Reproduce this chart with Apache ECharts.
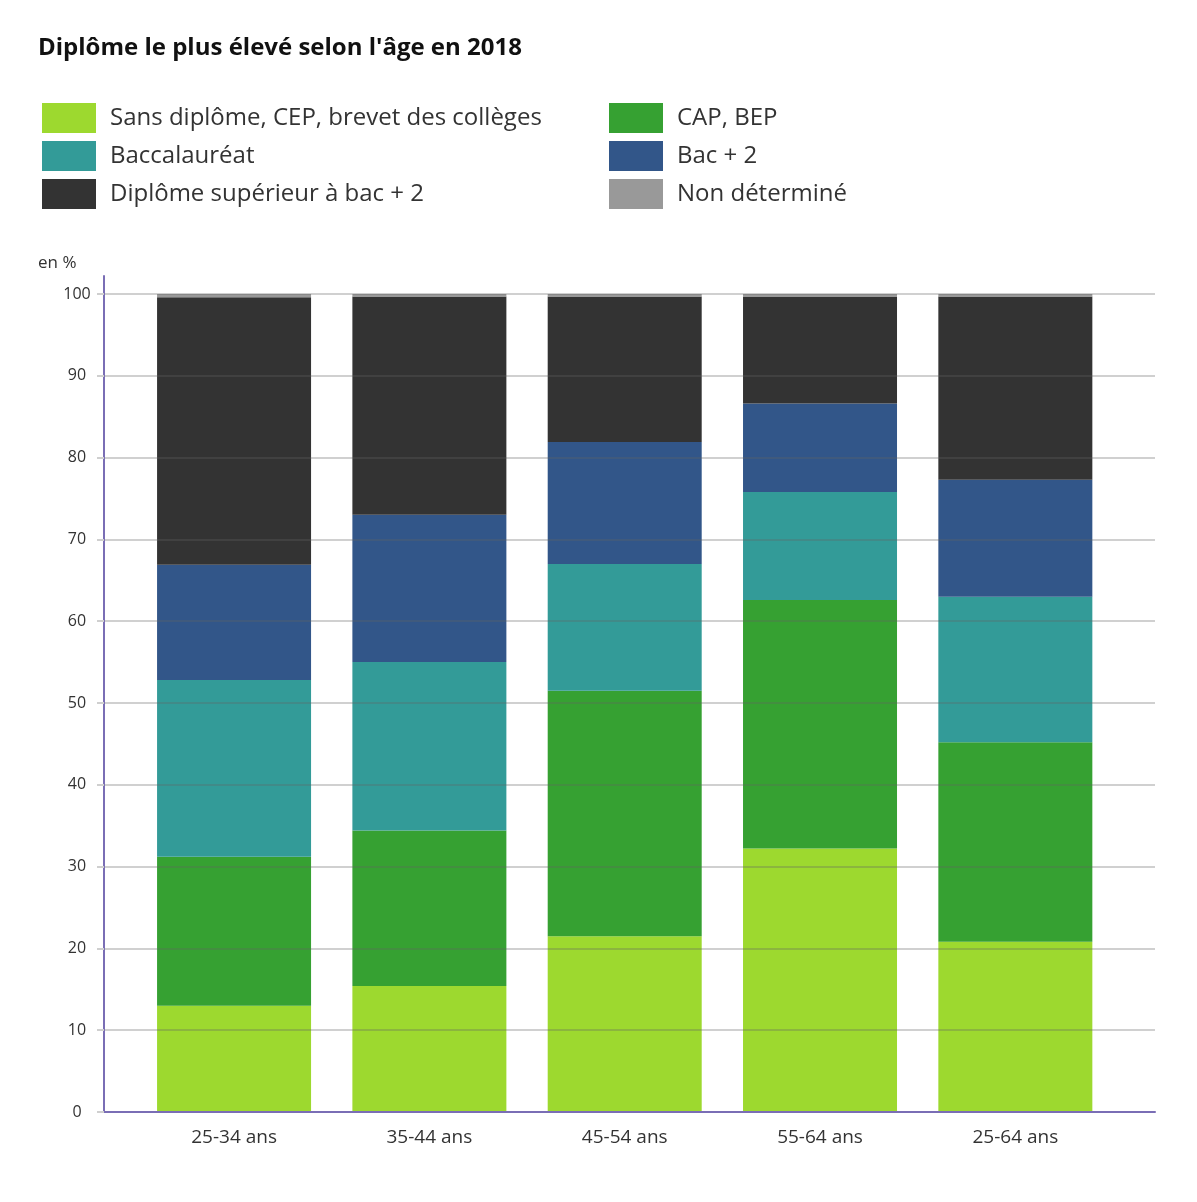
<!DOCTYPE html>
<html>
<head>
<meta charset="utf-8">
<script src="https://cdn.jsdelivr.net/npm/echarts@6/dist/echarts.min.js"></script>
<style>
  html, body { margin: 0; padding: 0; background: #fff; }
  #chart { width: 1197px; height: 1202px; }
</style>
</head>
<body>
<div id="chart"></div>
<script>
// Highest diploma by age group, 2018 (shares in %)
const categories = ['25-34 ans', '35-44 ans', '45-54 ans', '55-64 ans', '25-64 ans'];
const sansDiplome = [13.0, 15.4, 21.5, 32.2, 20.8];
const capBep      = [18.2, 19.0, 30.0, 30.4, 24.4];
const baccalaureat = [21.6, 20.6, 15.5, 13.2, 17.8];
const bacPlus2    = [14.1, 18.0, 14.9, 10.8, 14.3];
const superieur   = [32.7, 26.7, 17.8, 13.1, 22.4];
const nonDetermine = [0.4, 0.3, 0.3, 0.3, 0.3];
const yTicks = { min: 0, max: 102.2, step: 10 };

const FONT = '"Open Sans", "Noto Sans", sans-serif';
const AXIS_PURPLE = '#7a6eb5';
const PX_PER_UNIT = 8.18;

function bar(name, data, color) {
  return {
    name, type: 'bar', stack: 'total', data,
    xAxisIndex: 1, yAxisIndex: 1,
    barWidth: 154,
    itemStyle: { color },
    emphasis: { disabled: true }
  };
}

const chart = echarts.init(document.getElementById('chart'), null, { renderer: 'canvas' });
const legendText = { fontFamily: FONT, fontSize: 24, color: '#333', padding: [0, 0, 0, 9] };
const gridTop = 1112 - yTicks.max * PX_PER_UNIT;

chart.setOption({
  animation: false,
  backgroundColor: '#ffffff',
  title: [
    { text: "Diplôme le plus élevé selon l'âge en 2018", left: 33, top: 31,
      textStyle: { fontFamily: FONT, fontSize: 24, fontWeight: 'bold', color: '#111' } },
    { text: 'en %', left: 33, top: 250,
      textStyle: { fontFamily: FONT, fontSize: 17, fontWeight: 'normal', color: '#333' } }
  ],
  legend: [
    { orient: 'vertical', left: 37, top: 98, itemWidth: 54, itemHeight: 30, itemGap: 8,
      icon: 'rect', selectedMode: false, textStyle: legendText,
      data: ['Sans diplôme, CEP, brevet des collèges', 'Baccalauréat', 'Diplôme supérieur à bac + 2'] },
    { orient: 'vertical', left: 604, top: 98, itemWidth: 54, itemHeight: 30, itemGap: 8,
      icon: 'rect', selectedMode: false, textStyle: legendText,
      data: ['CAP, BEP', 'Bac + 2', 'Non déterminé'] }
  ],
  grid: [
    // frame: axis lines and gridlines
    { left: 104, right: 42, top: gridTop, bottom: 90 },
    // bars
    { left: 136.4, right: 84, top: gridTop, bottom: 90 }
  ],
  xAxis: [
    { type: 'value', gridIndex: 0, min: 0, max: 1, z: 10,
      axisLine: { show: true, lineStyle: { color: AXIS_PURPLE, width: 2 } },
      axisTick: { show: false }, axisLabel: { show: false }, splitLine: { show: false } },
    { type: 'category', gridIndex: 1, data: categories,
      axisLine: { show: false }, axisTick: { show: false },
      axisLabel: { fontFamily: FONT, fontSize: 19, color: '#333', margin: 16 } }
  ],
  yAxis: [
    { type: 'value', gridIndex: 0, min: yTicks.min, max: yTicks.max, interval: yTicks.step, z: 10,
      axisLine: { show: true, lineStyle: { color: AXIS_PURPLE, width: 2 } },
      axisTick: { show: true, length: 7, lineStyle: { color: '#cfcfcf', width: 2 } },
      axisLabel: { fontFamily: FONT, fontSize: 16, color: '#333', align: 'center', margin: 27,
                   showMaxLabel: false },
      splitLine: { show: true, showMaxLine: false,
                   lineStyle: { color: 'rgba(100,100,100,0.3)', width: 2 } } },
    { type: 'value', gridIndex: 1, min: yTicks.min, max: yTicks.max, interval: yTicks.step,
      show: false, splitLine: { show: false } }
  ],
  series: [
    bar('Sans diplôme, CEP, brevet des collèges', sansDiplome, '#9dd92f'),
    bar('CAP, BEP', capBep, '#36a132'),
    bar('Baccalauréat', baccalaureat, '#339b98'),
    bar('Bac + 2', bacPlus2, '#325689'),
    bar('Diplôme supérieur à bac + 2', superieur, '#333333'),
    bar('Non déterminé', nonDetermine, '#999999')
  ]
});
</script>
</body>
</html>
